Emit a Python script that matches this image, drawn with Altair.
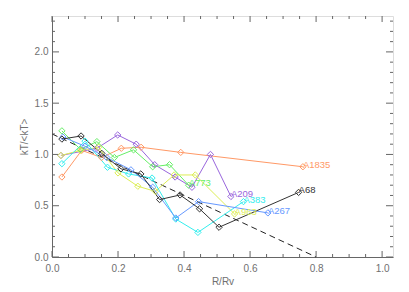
import altair as alt
import pandas as pd

# ---- data ----
names = ["A1835", "A209", "A773", "A963", "A383", "A267", "A68"]
colors = ["#ff9966", "#9966dd", "#66ee66", "#ddee55", "#33eeee", "#6699ff", "#333333"]

x_A1835 = [0.03, 0.09, 0.15, 0.21, 0.27, 0.39, 0.76]
y_A1835 = [0.78, 1.04, 0.97, 1.06, 1.07, 1.02, 0.88]

x_A209 = [0.027, 0.136, 0.199, 0.255, 0.311, 0.373, 0.424, 0.48, 0.542]
y_A209 = [0.99, 1.06, 1.19, 1.10, 0.90, 0.78, 0.68, 1.00, 0.59]

x_A773 = [0.03, 0.086, 0.136, 0.189, 0.247, 0.305, 0.356, 0.414]
y_A773 = [1.23, 1.05, 1.125, 0.97, 1.045, 0.88, 0.90, 0.70]

x_A963 = [0.027, 0.086, 0.141, 0.20, 0.26, 0.313, 0.37, 0.434, 0.553]
y_A963 = [0.99, 1.04, 1.07, 0.82, 0.69, 0.64, 0.80, 0.80, 0.42]

x_A383 = [0.03, 0.10, 0.168, 0.232, 0.303, 0.375, 0.442, 0.58]
y_A383 = [0.91, 1.13, 0.875, 0.81, 0.77, 0.37, 0.24, 0.54]

x_A267 = [0.033, 0.10, 0.166, 0.239, 0.305, 0.375, 0.444, 0.654]
y_A267 = [1.17, 1.08, 0.97, 0.85, 0.68, 0.38, 0.54, 0.43]

x_A68 = [0.03, 0.088, 0.151, 0.209, 0.269, 0.326, 0.388, 0.447, 0.506, 0.747]
y_A68 = [1.15, 1.18, 1.01, 0.86, 0.81, 0.56, 0.605, 0.47, 0.29, 0.63]

dash_x = [0.0, 0.8]
dash_y = [1.2, 0.0]

x_major = [0.0, 0.2, 0.4, 0.6, 0.8, 1.0]
x_minor = [0.05, 0.1, 0.15, 0.25, 0.3, 0.35, 0.45, 0.5, 0.55, 0.65, 0.7, 0.75, 0.85, 0.9, 0.95]
y_major = [0.0, 0.5, 1.0, 1.5, 2.0]
y_minor = [0.1, 0.2, 0.3, 0.4, 0.6, 0.7, 0.8, 0.9, 1.1, 1.2, 1.3, 1.4,
           1.6, 1.7, 1.8, 1.9, 2.1, 2.2, 2.3]

series_x = [x_A1835, x_A209, x_A773, x_A963, x_A383, x_A267, x_A68]
series_y = [y_A1835, y_A209, y_A773, y_A963, y_A383, y_A267, y_A68]

rows = []
last = []
for n, xs, ys in zip(names, series_x, series_y):
    for i, (a, b) in enumerate(zip(xs, ys)):
        rows.append({"name": n, "x": a, "y": b, "i": i})
    last.append({"name": n, "x": xs[-1], "y": ys[-1]})
df = pd.DataFrame(rows)
df_last = pd.DataFrame(last)
df_dash = pd.DataFrame({"x": dash_x, "y": dash_y})

W, H = 341, 241
xs_ = alt.Scale(domain=[0, 1.033], nice=False, zero=False)
ys_ = alt.Scale(domain=[0, 2.35], nice=False, zero=False)
cscale = alt.Scale(domain=names, range=colors)
FONT = "Liberation Sans"
AX = "#666666"
TXT = "#707070"

xaxis = alt.Axis(values=x_major, format=".1f", tickSize=0, labelFontSize=10, labelFont=FONT,
                 labelColor=TXT, domainColor=AX, grid=False, labelPadding=6,
                 title="R/Rv", titleFont=FONT, titleFontSize=10, titleFontWeight="normal",
                 titleColor=TXT, titlePadding=3, labelFlush=False)
yaxis = alt.Axis(values=y_major, format=".1f", tickSize=0, labelFontSize=10, labelFont=FONT,
                 labelColor=TXT, domainColor=AX, grid=False, labelPadding=4,
                 title="kT/<kT>", titleFont=FONT, titleFontSize=10, titleFontWeight="normal",
                 titleColor=TXT, titlePadding=5, labelFlush=False)

dash = alt.Chart(df_dash).mark_line(color="#222222", strokeDash=[6, 4], strokeWidth=1).encode(
    x=alt.X("x:Q", scale=xs_, axis=xaxis),
    y=alt.Y("y:Q", scale=ys_, axis=yaxis),
)

lines = alt.Chart(df).mark_line(strokeWidth=1,
                                point=alt.OverlayMarkDef(shape="diamond", filled=False, size=40, strokeWidth=1)).encode(
    x=alt.X("x:Q", scale=xs_),
    y=alt.Y("y:Q", scale=ys_),
    color=alt.Color("name:N", scale=cscale, legend=None, sort=names),
    detail="name:N",
    order="i:Q",
)

labels = alt.Chart(df_last).mark_text(align="left", baseline="middle", dx=0, dy=-2,
                                      font=FONT, fontSize=9.5).encode(
    x=alt.X("x:Q", scale=xs_),
    y=alt.Y("y:Q", scale=ys_),
    text="name:N",
    color=alt.Color("name:N", scale=cscale, legend=None),
)

def xt(vals, length, top):
    d = pd.DataFrame({"t": vals})
    if top:
        return alt.Chart(d).mark_rule(color=AX, strokeWidth=1).encode(
            x=alt.X("t:Q", scale=xs_), y=alt.value(0), y2=alt.value(length))
    return alt.Chart(d).mark_rule(color=AX, strokeWidth=1).encode(
        x=alt.X("t:Q", scale=xs_), y=alt.value(H), y2=alt.value(H - length))

def yt(vals, length, right):
    d = pd.DataFrame({"t": vals})
    if right:
        return alt.Chart(d).mark_rule(color=AX, strokeWidth=1).encode(
            y=alt.Y("t:Q", scale=ys_), x=alt.value(W), x2=alt.value(W - length))
    return alt.Chart(d).mark_rule(color=AX, strokeWidth=1).encode(
        y=alt.Y("t:Q", scale=ys_), x=alt.value(0), x2=alt.value(length))

ticks = [xt(x_major, 6, False), xt(x_minor, 3, False), xt(x_major, 6, True), xt(x_minor, 3, True),
         yt(y_major, 7, False), yt(y_minor, 3, False), yt(y_major, 7, True), yt(y_minor, 3, True)]

chart = alt.layer(dash, *ticks, lines, labels).properties(
    width=W, height=H,
    autosize=alt.AutoSizeParams(type="none"),
    padding={"left": 44, "top": 8, "right": 8, "bottom": 30},
).configure_view(stroke=AX, strokeWidth=1).configure(background="white")

chart.save("out.html", embed_options={"renderer": "svg", "actions": False})
